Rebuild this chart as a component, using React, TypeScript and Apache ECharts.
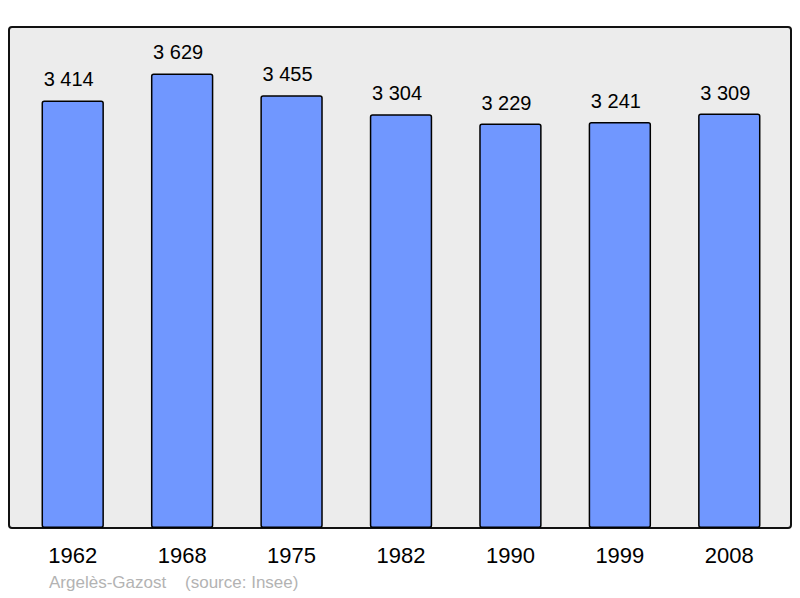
import React, { useEffect, useRef } from "react";
import * as echarts from "echarts";

const years = ["1962", "1968", "1975", "1982", "1990", "1999", "2008"];
const population = [3414, 3629, 3455, 3304, 3229, 3241, 3309];
const footer = "Argelès-Gazost    (source: Insee)";

const fmt = (v: number) => {
  const s = String(v);
  return s.length > 3 ? s.slice(0, s.length - 3) + " " + s.slice(-3) : s;
};

export default function App() {
  const ref = useRef<HTMLDivElement>(null);
  useEffect(() => {
    if (!ref.current) return;
    const chart = echarts.init(ref.current, null, { renderer: "svg" });
    chart.setOption({
      animation: false,
      backgroundColor: "#ffffff",
      textStyle: { fontFamily: "Liberation Sans, Arial, sans-serif" },
      graphic: [
        {
          type: "rect",
          z: -10,
          shape: { x: 9, y: 27, width: 782, height: 501, r: 3 },
          style: { fill: "#ececec", stroke: "#111", lineWidth: 2 },
        },
        {
          type: "text",
          left: 49,
          top: 574,
          style: {
            text: footer,
            fill: "#b3b3b3",
            font: "17px Liberation Sans, Arial, sans-serif",
          },
        },
      ],
      grid: { left: 18, right: 16, top: 27, bottom: 70, containLabel: false },
      xAxis: {
        type: "category",
        data: years,
        axisLine: { show: false },
        axisTick: { show: false },
        axisLabel: {
          color: "#000",
          fontSize: 22,
          margin: 16,
          fontFamily: "Liberation Sans, Arial, sans-serif",
        },
      },
      yAxis: {
        type: "value",
        min: 0,
        max: 4000,
        show: false,
        splitLine: { show: false },
      },
      series: [
        {
          type: "bar",
          data: population,
          barWidth: "57%",
          itemStyle: {
            color: "#7097ff",
            borderColor: "#000",
            borderWidth: 1.5,
            borderRadius: 2,
          },
          label: {
            show: true,
            position: "top",
            distance: 11,
            offset: [-4, 0],
            color: "#000",
            fontSize: 20,
            fontFamily: "Liberation Sans, Arial, sans-serif",
            formatter: (p: any) => fmt(p.value),
          },
        },
      ],
    });
    return () => chart.dispose();
  }, []);
  return (
    <div
      ref={ref}
      style={{ position: "absolute", left: 0, top: 0, width: 800, height: 598 }}
    />
  );
}
